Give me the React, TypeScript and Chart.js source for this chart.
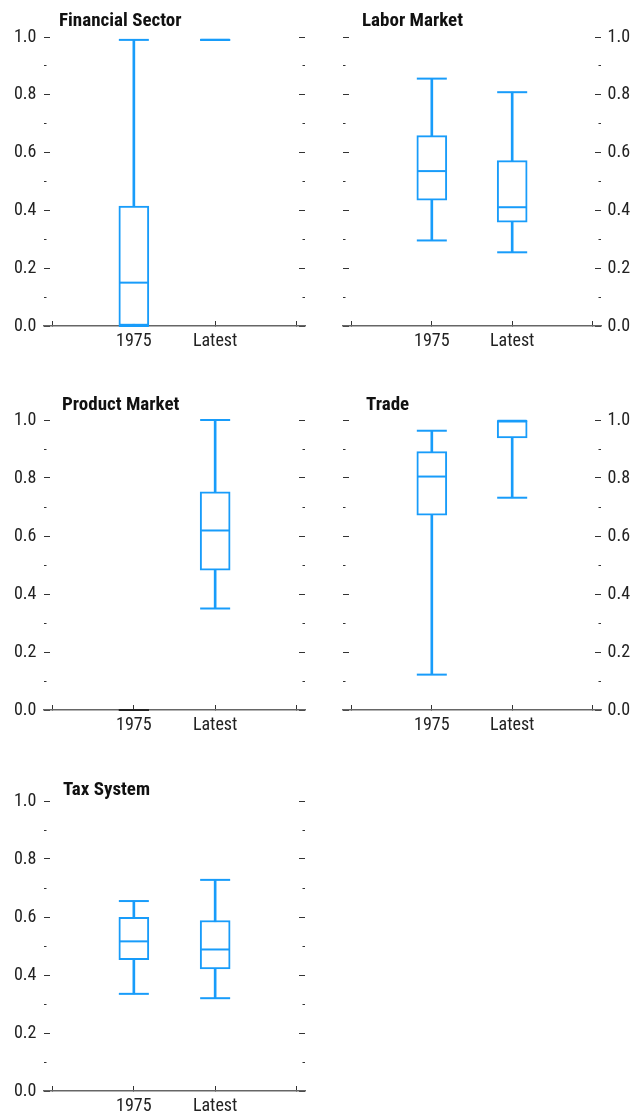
import React, { useEffect, useRef } from 'react';
import { Chart, registerables } from 'chart.js';

Chart.register(...registerables);

// ---------- data ----------
const panelTitles = ['Financial Sector', 'Labor Market', 'Product Market', 'Trade', 'Tax System'];
const categories = ['1975', 'Latest'];
const xTickValues = [0, 1, 2, 3];

// one row per panel, one value per category
const lowerWhisker = [
  [0.0, 0.99],
  [0.296, 0.255],
  [0.0, 0.35],
  [0.122, 0.732],
  [0.335, 0.32],
];
const lowerQuartile = [
  [0.0, 0.99],
  [0.435, 0.359],
  [0.0, 0.482],
  [0.672, 0.938],
  [0.453, 0.421],
];
const medianValues = [
  [0.15, 0.99],
  [0.536, 0.411],
  [0.0, 0.619],
  [0.805, 0.997],
  [0.516, 0.488],
];
const upperQuartile = [
  [0.415, 0.99],
  [0.659, 0.572],
  [0.0, 0.752],
  [0.891, 0.997],
  [0.599, 0.588],
];
const upperWhisker = [
  [0.99, 0.99],
  [0.856, 0.809],
  [0.0, 1.0],
  [0.963, 0.997],
  [0.655, 0.728],
];

// ---------- style / layout ----------
const FONT = "'Liberation Sans Narrow', 'Arial Narrow', 'Roboto Condensed', 'Liberation Sans', Arial, sans-serif";
const BLUE = 'rgb(24,156,250)';
const DARK = '#222222';
const X_AXIS_H = 30;

type PanelLayout = {
  left: number; top: number; width: number; padTop: number; areaH: number;
  leftW: number; rightW: number; leftLabels: boolean; rightLabels: boolean;
  titleX: number; titleY: number;
};

const layouts: PanelLayout[] = [
  { left: 0, top: 0, width: 315, padTop: 37, areaH: 289, leftW: 44, rightW: 10, leftLabels: true, rightLabels: false, titleX: 59, titleY: 10 },
  { left: 315, top: 0, width: 315, padTop: 37, areaH: 289, leftW: 28, rightW: 29, leftLabels: false, rightLabels: true, titleX: 362, titleY: 10 },
  { left: 0, top: 383, width: 315, padTop: 37, areaH: 290, leftW: 44, rightW: 10, leftLabels: true, rightLabels: false, titleX: 62, titleY: 394 },
  { left: 315, top: 383, width: 315, padTop: 37, areaH: 290, leftW: 28, rightW: 29, leftLabels: false, rightLabels: true, titleX: 366, titleY: 394 },
  { left: 0, top: 764, width: 315, padTop: 37, areaH: 290, leftW: 44, rightW: 10, leftLabels: true, rightLabels: false, titleX: 63, titleY: 779 },
];

const isMajor = (v: number) => Math.round(v * 10) % 2 === 0;

function Panel({ index }: { index: number }) {
  const ref = useRef<HTMLCanvasElement | null>(null);
  const lay = layouts[index];
  const height = lay.padTop + lay.areaH + X_AXIS_H;

  useEffect(() => {
    if (!ref.current) return;
    const n = categories.length;
    const zeroCat = (i: number) => upperWhisker[index][i % n] === 0;
    const markColor = (ctx: any) => (zeroCat(ctx.dataIndex) ? DARK : BLUE);

    const whiskers = categories.map((_, i) => ({ x: i + 1, y: [lowerWhisker[index][i], upperWhisker[index][i]] }));
    const boxes = categories.map((_, i) => ({ x: i + 1, y: [lowerQuartile[index][i], upperQuartile[index][i]] }));
    const medians = categories.map((_, i) => ({ x: i + 1, y: medianValues[index][i] }));
    const caps = [
      ...categories.map((_, i) => ({ x: i + 1, y: lowerWhisker[index][i] })),
      ...categories.map((_, i) => ({ x: i + 1, y: upperWhisker[index][i] })),
    ];

    const zeroPad = (s: any) => {
      s.paddingLeft = 0; s.paddingRight = 0; s.paddingTop = 0; s.paddingBottom = 0;
    };

    const chart = new Chart(ref.current, {
      type: 'bar',
      data: {
        datasets: [
          {
            type: 'bar', data: whiskers as any, order: 3, grouped: false, barThickness: 2,
            backgroundColor: BLUE, borderWidth: 0, clip: false as any,
          },
          {
            type: 'bar', data: boxes as any, order: 2, grouped: false, barThickness: 30,
            backgroundColor: '#ffffff', borderColor: BLUE, borderWidth: 2, borderSkipped: false, clip: false as any,
          },
          {
            type: 'scatter', data: medians as any, order: 1, pointStyle: 'line', pointRadius: 14,
            pointHoverRadius: 14, borderColor: markColor, pointBorderWidth: 2, borderWidth: 2, clip: false as any,
          },
          {
            type: 'scatter', data: caps as any, order: 0, pointStyle: 'line', pointRadius: 15,
            pointHoverRadius: 15, borderColor: markColor, pointBorderWidth: 2, borderWidth: 2, clip: false as any,
          },
        ] as any,
      },
      options: {
        animation: false,
        responsive: false,
        devicePixelRatio: 1,
        events: [],
        layout: { autoPadding: false, padding: { top: lay.padTop, left: 0, right: 0, bottom: 0 } },
        plugins: { legend: { display: false }, tooltip: { enabled: false }, title: { display: false } },
        scales: {
          x: {
            type: 'linear', min: -0.105, max: 3.105, offset: false,
            afterBuildTicks: (s: any) => { s.ticks = xTickValues.map((v) => ({ value: v })); },
            afterFit: (s: any) => { s.height = X_AXIS_H; zeroPad(s); },
            grid: { offset: false, drawOnChartArea: false, drawTicks: true, tickLength: -5, tickColor: '#333', tickWidth: 1 },
            border: { display: true, color: '#666', width: 1.5 },
            ticks: {
              autoSkip: false, maxRotation: 0, padding: 10, color: DARK,
              font: { family: FONT, size: 18 },
              callback: (v: any) => categories[Number(v) - 1] ?? '',
            },
          },
          y: {
            type: 'linear', position: 'left', min: 0, max: 1,
            afterFit: (s: any) => { s.width = lay.leftW; },
            grid: {
              drawOnChartArea: false, drawTicks: true, tickLength: -6, tickColor: '#333', tickWidth: 1,
              tickBorderDash: (ctx: any) => (ctx.tick && !isMajor(ctx.tick.value) ? [0, 3.5, 2.5, 10] : []),
            },
            border: { display: false },
            ticks: {
              stepSize: 0.1, autoSkip: false, padding: 13.5, color: DARK,
              font: { family: FONT, size: 18 },
              callback: (v: any) => (lay.leftLabels && isMajor(Number(v)) ? Number(v).toFixed(1) : ''),
            },
          },
          y2: {
            type: 'linear', position: 'right', min: 0, max: 1,
            afterFit: (s: any) => { s.width = lay.rightW; },
            grid: {
              drawOnChartArea: false, drawTicks: true, tickLength: -6, tickColor: '#333', tickWidth: 1,
              tickBorderDash: (ctx: any) => (ctx.tick && !isMajor(ctx.tick.value) ? [2.5, 10] : []),
            },
            border: { display: false },
            ticks: {
              stepSize: 0.1, autoSkip: false, padding: 12.5, color: DARK,
              font: { family: FONT, size: 18 },
              callback: (v: any) => (lay.rightLabels && isMajor(Number(v)) ? Number(v).toFixed(1) : ''),
            },
          },
        },
      } as any,
    });
    return () => chart.destroy();
  }, [index]);

  return (
    <>
      <canvas
        ref={ref}
        width={lay.width}
        height={height}
        style={{ position: 'absolute', left: lay.left, top: lay.top, width: lay.width, height, display: 'block' }}
      />
      <div
        style={{
          position: 'absolute', left: lay.titleX, top: lay.titleY, fontFamily: FONT, fontWeight: 'bold',
          fontSize: 19, lineHeight: '20px', color: '#111', whiteSpace: 'nowrap',
        }}
      >
        {panelTitles[index]}
      </div>
    </>
  );
}

export default function App() {
  return (
    <div style={{ position: 'absolute', left: 0, top: 0, width: 630, height: 1118, background: '#ffffff', overflow: 'hidden' }}>
      {panelTitles.map((_, i) => (
        <Panel key={i} index={i} />
      ))}
    </div>
  );
}
